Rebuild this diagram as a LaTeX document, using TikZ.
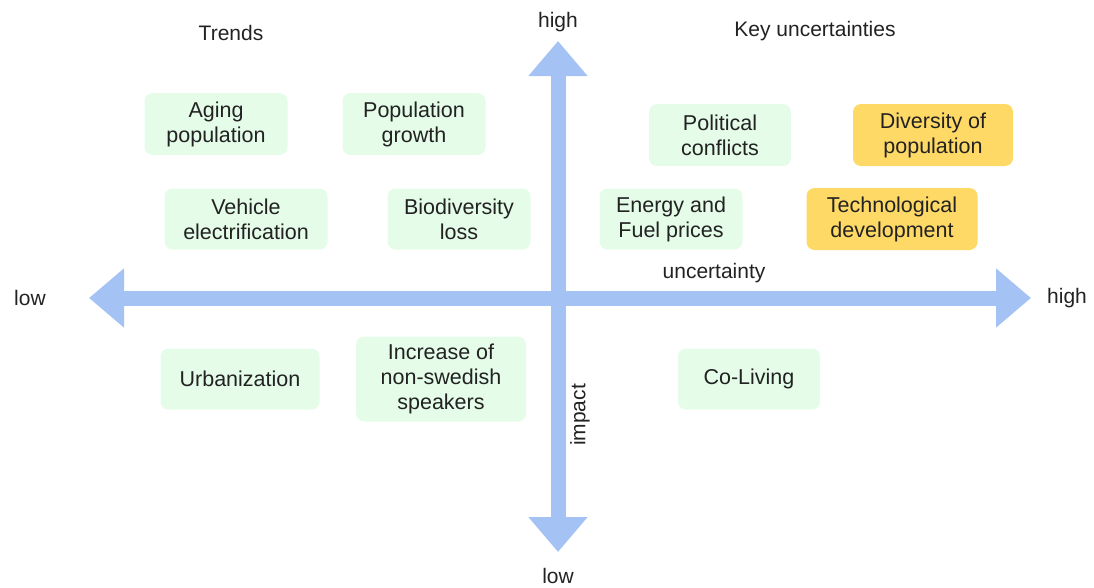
\documentclass[tikz,border=0pt]{standalone}
\usepackage{fontspec}
\setmainfont{Liberation Sans}
\usetikzlibrary{arrows.meta}
\definecolor{axisblue}{HTML}{A4C2F4}
\definecolor{mint}{HTML}{E4FCE8}
\definecolor{gold}{HTML}{FFD966}
\definecolor{ink}{HTML}{222222}
\tikzset{
  card/.style={fill=mint, rounded corners=8pt, align=center, text=ink,
    font=\fontsize{21.5}{25}\selectfont, inner sep=0pt},
  keycard/.style={card, fill=gold},
  lbl/.style={text=ink, font=\fontsize{21}{24}\selectfont, inner sep=0pt},
  axis/.style={draw=axisblue, line width=15pt,
    -{Triangle[length=35pt,width=57pt]}},
  biaxis/.style={draw=axisblue, line width=15pt,
    {Triangle[length=35pt,width=57pt]}-{Triangle[length=35pt,width=57pt]}},
}
\begin{document}
\begin{tikzpicture}[x=1pt,y=-1pt]
\useasboundingbox (0,0) rectangle (1094,587);
% axes
\coordinate (L) at (89,298);
\coordinate (R) at (1031,298);
\coordinate (T) at (558,41);
\coordinate (B) at (558,552);
\draw[biaxis] (L) -- (R);
\draw[axis] (558,298) -- (T);
\draw[axis] (558,298) -- (B);
% axis labels
\node[lbl] (hightop) at (558,22) {high};
\node[lbl] (lowbot) at (558,576) {low};
\node[lbl] (lowleft) at (30,298) {low};
\node[lbl] (highright) at (1067,298) {high};
\node[lbl] (unc) at (714,273) {uncertainty};
\node[lbl, rotate=90] (imp) at (580,415) {impact};
% titles
\node[lbl] (trends) at (231,33) {Trends};
\node[lbl] (keyunc) at (815,31) {Key uncertainties};
% boxes
\node[card, minimum width=143pt, minimum height=62pt] (aging) at (216,124) {Aging\\population};
\node[card, minimum width=143pt, minimum height=62pt] (popg) at (414,124) {Population\\growth};
\node[card, minimum width=163pt, minimum height=61pt] (vehicle) at (246,219) {Vehicle\\electrification};
\node[card, minimum width=143pt, minimum height=61pt] (biod) at (459,219) {Biodiversity\\loss};
\node[card, minimum width=142pt, minimum height=62pt] (polit) at (720,135) {Political\\conflicts};
\node[keycard, minimum width=160pt, minimum height=62pt] (divers) at (933,135) {Diversity of\\population};
\node[card, minimum width=143pt, minimum height=61pt] (energy) at (671,219) {Energy and\\Fuel prices};
\node[keycard, minimum width=171pt, minimum height=62pt] (tech) at (892,219) {Technological\\development};
\node[card, minimum width=159pt, minimum height=61pt] (urban) at (240,379) {Urbanization};
\node[card, minimum width=170pt, minimum height=85pt] (incr) at (441,379) {Increase of\\non-swedish\\speakers};
\node[card, minimum width=142pt, minimum height=61pt] (coliv) at (749,379) {Co-Living};
\end{tikzpicture}
\end{document}
